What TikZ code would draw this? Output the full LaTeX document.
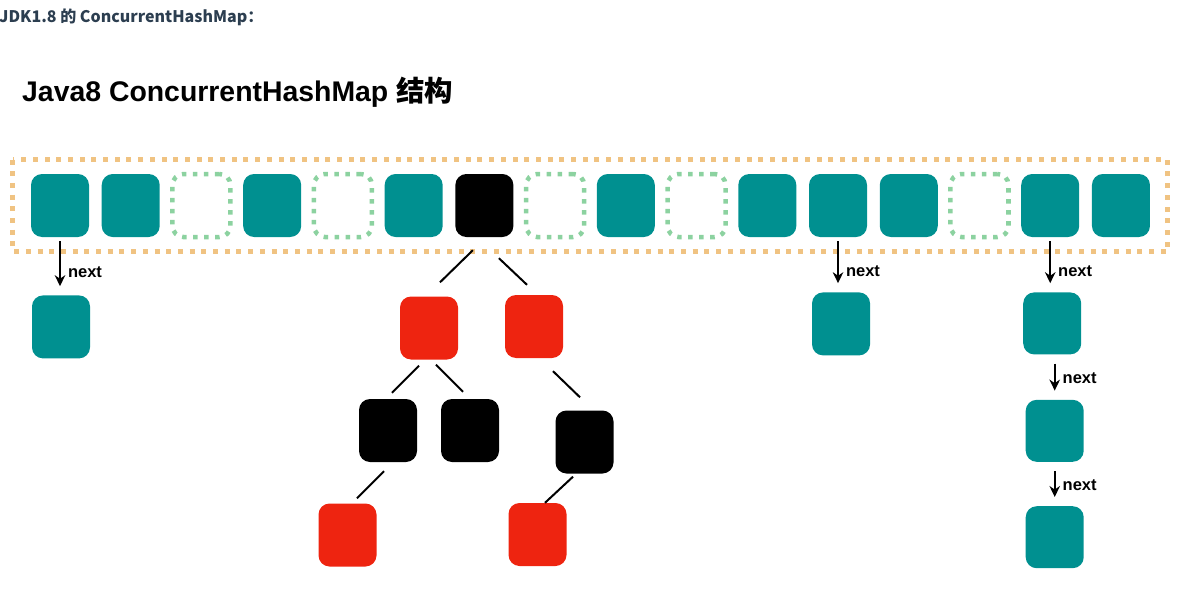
\documentclass[tikz,border=0pt]{standalone}
\usepackage{fontspec}
\setmainfont{Liberation Sans}
\newfontfamily\cjk{Noto Sans CJK SC}
\usetikzlibrary{arrows.meta,positioning}
\definecolor{binteal}{RGB}{0,144,144}
\definecolor{treered}{RGB}{238,36,16}
\definecolor{tableorange}{RGB}{240,195,130}
\definecolor{emptygreen}{RGB}{140,210,160}
\definecolor{headgray}{RGB}{44,62,80}

\begin{document}
\begin{tikzpicture}[
  x=1pt, y=-1pt,
  bin/.style={rectangle, rounded corners=11pt, minimum width=58pt, minimum height=63pt, inner sep=0pt},
  fullbin/.style={bin, fill=binteal},
  emptybin/.style={bin, draw=emptygreen, line width=4.5pt, dash pattern=on 4.5pt off 6.5pt},
  redbin/.style={bin, fill=treered},
  blackbin/.style={bin, fill=black},
  nextarrow/.style={draw, -{Stealth[length=11pt,width=10.5pt]}, line width=2pt, shorten <=4pt, shorten >=9pt},
  nextlabel/.style={font=\bfseries\fontsize{16.5}{19}\selectfont, inner sep=1pt, anchor=west, xshift=6pt},
  branch/.style={draw, line width=2pt}
]
\useasboundingbox (0,0) rectangle (1184,610);

% headings
\node[anchor=base west, inner sep=0pt, text=headgray, font=\cjk\bfseries\fontsize{16}{19}\selectfont] (head) at (-1,23) {JDK1.8 的 ConcurrentHashMap：};
\node[anchor=base west, inner sep=0pt, font=\bfseries\fontsize{28.4}{32}\selectfont] (title) at (22,101) {Java8 ConcurrentHashMap {\cjk\bfseries 结构}};

% table
\draw[tableorange, line width=5pt, dash pattern=on 5pt off 6.7pt] (12.5,159.5) rectangle (1167.5,251.5);
\foreach \i/\k in {1/fullbin, 2/fullbin, 3/emptybin, 4/fullbin, 5/emptybin, 6/fullbin, 7/blackbin, 8/emptybin,
                   9/fullbin, 10/emptybin, 11/fullbin, 12/fullbin, 13/fullbin, 14/emptybin, 15/fullbin, 16/fullbin}
  \node[\k] (c\i) at ({60+70.73*(\i-1)},205.5) {};

% linked lists
\node[fullbin, below=58pt of c1, xshift=1pt] (n1) {};
\node[fullbin, below=55pt of c12, xshift=3pt] (n12) {};
\node[fullbin, below=55pt of c15, xshift=2pt, minimum height=62pt] (n15a) {};
\node[fullbin, below=45pt of n15a, xshift=2.5pt, minimum height=62pt] (n15b) {};
\node[fullbin, below=44pt of n15b, minimum height=62pt] (n15c) {};

\draw[nextarrow] (c1.south) -- (c1.south |- n1.north) node[nextlabel, pos=0.6] {next};
\draw[nextarrow] (c12.south) -- (c12.south |- n12.north) node[nextlabel, pos=0.62] {next};
\draw[nextarrow] (c15.south) -- (c15.south |- n15a.north) node[nextlabel, pos=0.62] {next};
\draw[nextarrow, shorten <=9pt] (n15b.north |- n15a.south) -- (n15b.north) node[nextlabel, pos=0.53] {next};
\draw[nextarrow, shorten <=9pt] (n15c.north |- n15b.south) -- (n15c.north) node[nextlabel, pos=0.52] {next};

% red-black tree
\node[redbin] (lr) at (429,328) {};
\node[redbin] (rr) at (534,326.5) {};
\node[blackbin] (lb1) at (388,430.5) {};
\node[blackbin] (lb2) at (470,430.5) {};
\node[blackbin] (rb) at (584.5,442) {};
\node[redbin] (lll) at (347.5,535) {};
\node[redbin] (rbl) at (537.5,534.5) {};

\draw[branch] ([shift={(-11.5,13)}]c7.south) -- ([shift={(11,-14)}]lr.north);
\draw[branch] ([shift={(14.5,21)}]c7.south) -- ([shift={(-7,-10)}]rr.north);
\draw[branch] ([shift={(-10,6)}]lr.south) -- ([shift={(4,-6)}]lb1.north);
\draw[branch] ([shift={(7,5)}]lr.south) -- ([shift={(-7,-7)}]lb2.north);
\draw[branch] ([shift={(19,13)}]rr.south) -- ([shift={(-4.5,-13)}]rb.north);
\draw[branch] ([shift={(-4,9)}]lb1.south) -- ([shift={(9.5,-5)}]lll.north);
\draw[branch] ([shift={(-11.5,3)}]rb.south) -- ([shift={(7.5,0)}]rbl.north);
\end{tikzpicture}
\end{document}
